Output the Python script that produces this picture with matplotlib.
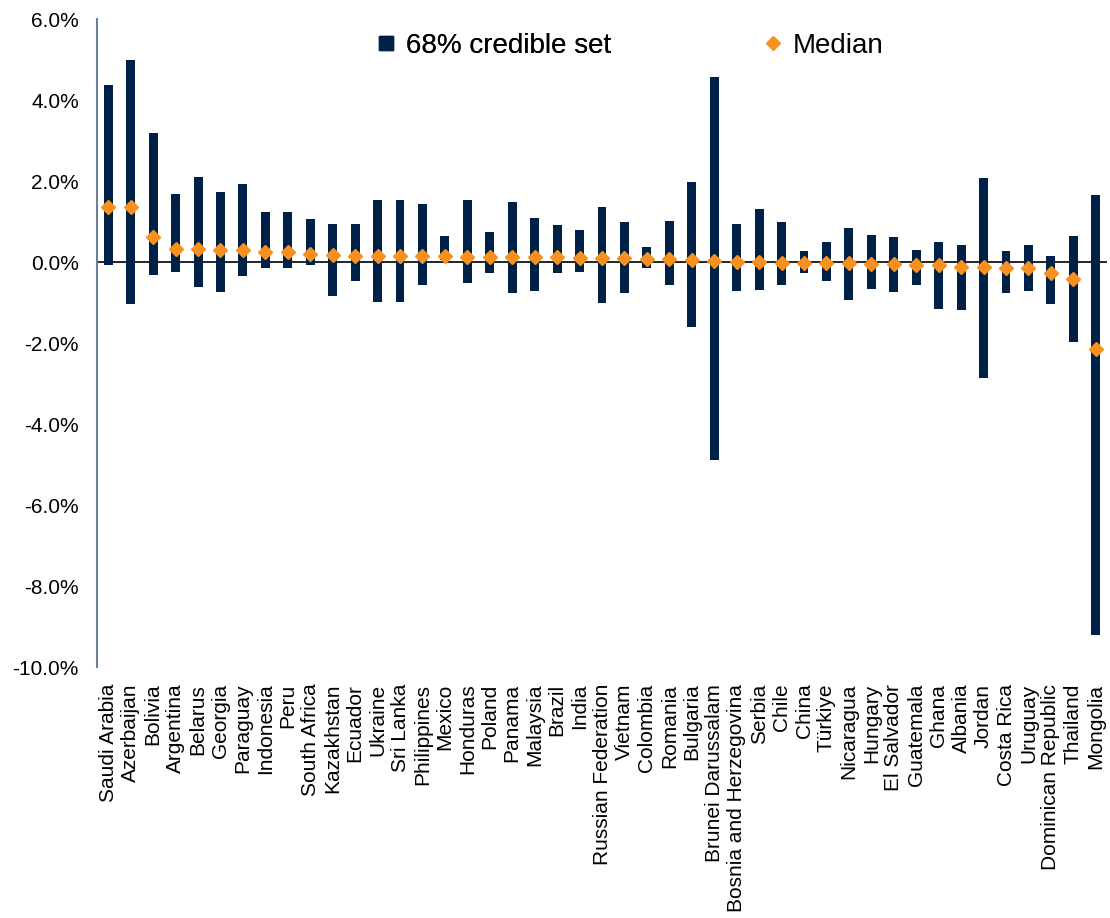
import matplotlib
matplotlib.use("Agg")
import matplotlib.pyplot as plt
from matplotlib.lines import Line2D
from matplotlib.ticker import FuncFormatter

plt.rcParams['font.family'] = ['Liberation Sans', 'DejaVu Sans']

countries = ["Saudi Arabia", "Azerbaijan", "Bolivia", "Argentina", "Belarus", "Georgia",
             "Paraguay", "Indonesia", "Peru", "South Africa", "Kazakhstan", "Ecuador",
             "Ukraine", "Sri Lanka", "Philippines", "Mexico", "Honduras", "Poland", "Panama",
             "Malaysia", "Brazil", "India", "Russian Federation", "Vietnam", "Colombia",
             "Romania", "Bulgaria", "Brunei Darussalam", "Bosnia and Herzegovina", "Serbia",
             "Chile", "China", "Türkiye", "Nicaragua", "Hungary", "El Salvador", "Guatemala",
             "Ghana", "Albania", "Jordan", "Costa Rica", "Uruguay", "Dominican Republic",
             "Thailand", "Mongolia"]

upper = [4.36, 4.98, 3.19, 1.69, 2.09, 1.74, 1.92, 1.24, 1.24, 1.06, 0.94, 0.94,
         1.54, 1.54, 1.43, 0.63, 1.54, 0.75, 1.49, 1.09, 0.92, 0.78, 1.35, 0.98, 0.38,
         1.01, 1.97, 4.58, 0.94, 1.31, 0.98, 0.26, 0.49, 0.83, 0.67, 0.61, 0.30, 0.49,
         0.41, 2.08, 0.27, 0.41, 0.16, 0.64, 1.66]

lower = [-0.07, -1.03, -0.33, -0.25, -0.62, -0.73, -0.35, -0.16, -0.16, -0.07, -0.84, -0.47,
         -0.99, -0.99, -0.56, 0.05, -0.53, -0.27, -0.76, -0.72, -0.27, -0.24, -1.01, -0.76, -0.16,
         -0.56, -1.60, -4.90, -0.72, -0.70, -0.58, -0.27, -0.47, -0.93, -0.67, -0.73, -0.56, -1.15,
         -1.18, -2.86, -0.76, -0.72, -1.03, -1.97, -9.20]

median = [1.37, 1.37, 0.61, 0.32, 0.32, 0.30, 0.30, 0.24, 0.24, 0.21, 0.17, 0.16,
          0.15, 0.15, 0.15, 0.15, 0.12, 0.12, 0.12, 0.12, 0.12, 0.11, 0.09, 0.09, 0.07,
          0.07, 0.05, 0.03, 0.01, 0.00, -0.02, -0.02, -0.02, -0.02, -0.05, -0.05, -0.08, -0.08,
          -0.13, -0.13, -0.16, -0.16, -0.27, -0.42, -2.14]

navy = '#002147'
orange = '#F7901E'

fig = plt.figure(figsize=(11.1, 9.18), dpi=100)
ax = fig.add_axes([0.0874, 0.2734, 0.9099, 0.7059])

x = list(range(len(countries)))
heights = [u - l for u, l in zip(upper, lower)]
ax.bar(x, heights, bottom=lower, width=0.4, color=navy, zorder=2)
ax.plot(x, median, linestyle='none', marker='D', markersize=7, color=orange, zorder=3)
ax.axhline(0, color='black', lw=1.2, zorder=1)

ax.set_xlim(-0.5, len(countries) - 0.5)
ax.set_ylim(-10, 6)
ax.set_yticks([-10, -8, -6, -4, -2, 0, 2, 4, 6])
ax.yaxis.set_major_formatter(FuncFormatter(lambda v, p: f"{v:.1f}%"))
ax.set_xticks(x)
ax.set_xticklabels(countries, rotation=90, fontsize=15)
ax.tick_params(axis='y', length=0, pad=13, labelsize=15)
ax.tick_params(axis='x', length=0, pad=12)

for s in ['top', 'right', 'bottom']:
    ax.spines[s].set_visible(False)
ax.spines['left'].set_color('#6f7f94')
ax.spines['left'].set_linewidth(1.5)

h1 = Line2D([], [], linestyle='none', marker='s', markersize=10, color=navy)
h2 = Line2D([], [], linestyle='none', marker='D', markersize=7, color=orange)
leg1 = fig.legend([h1], ['68% credible set'], loc='center left',
                  bbox_to_anchor=(375 / 1110, 1 - 46 / 918), frameon=False,
                  fontsize=20, handlelength=0.8, handletextpad=0.3, borderpad=0, borderaxespad=0)
fig.add_artist(leg1)
fig.legend([h2], ['Median'], loc='center left',
           bbox_to_anchor=(762 / 1110, 1 - 46 / 918), frameon=False,
           fontsize=20, handlelength=0.8, handletextpad=0.3, borderpad=0, borderaxespad=0)

fig.savefig('out.png', dpi=100)
